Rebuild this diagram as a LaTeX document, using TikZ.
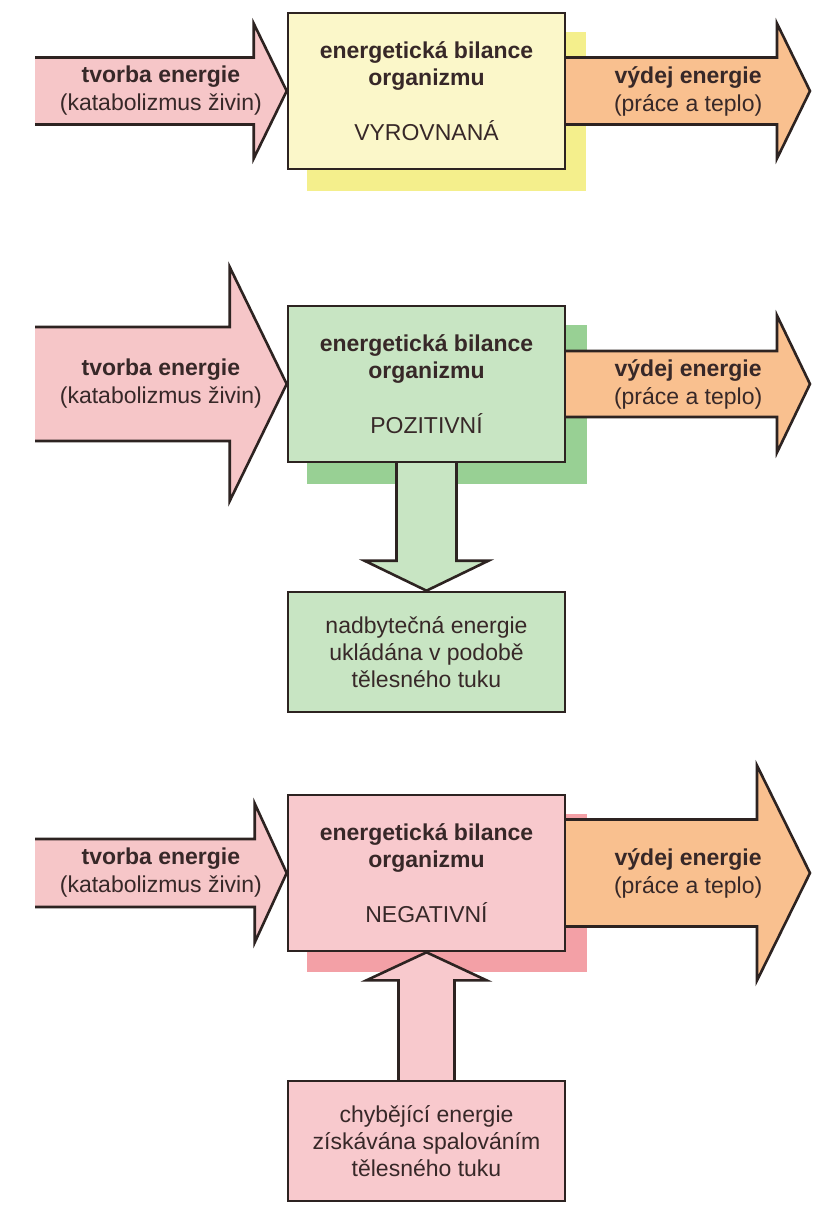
\documentclass[tikz,border=0pt]{standalone}
\usepackage{fontspec}
\setmainfont{Liberation Sans}
\usetikzlibrary{calc}

\definecolor{txtcol}{RGB}{55,40,40}
\definecolor{linecol}{RGB}{45,35,33}
\definecolor{inpink}{RGB}{246,198,200}
\definecolor{outorange}{RGB}{249,192,143}
\definecolor{yelbox}{RGB}{251,247,201}
\definecolor{yelshade}{RGB}{244,239,140}
\definecolor{grnbox}{RGB}{200,229,195}
\definecolor{grnshade}{RGB}{152,208,148}
\definecolor{redbox}{RGB}{248,201,205}
\definecolor{redshade}{RGB}{243,160,166}

\pgfdeclarelayer{back}
\pgfdeclarelayer{mid}
\pgfsetlayers{back,mid,main}

% block arrow: tail, tip, shaft half width, head half width, head length, fill
\newcommand{\fatarrow}[6]{%
  \coordinate (hb) at ($(#2)!#5pt!(#1)$);
  \fill[#6] ($(#1)!#3pt!90:(#2)$) -- ($(hb)!#3pt!90:(#2)$) -- ($(hb)!#4pt!90:(#2)$) -- (#2)
    -- ($(hb)!#4pt!-90:(#2)$) -- ($(hb)!#3pt!-90:(#2)$) -- ($(#1)!#3pt!-90:(#2)$) -- cycle;
  \draw[arrline] ($(#1)!#3pt!90:(#2)$) -- ($(hb)!#3pt!90:(#2)$) -- ($(hb)!#4pt!90:(#2)$) -- (#2)
    -- ($(hb)!#4pt!-90:(#2)$) -- ($(hb)!#3pt!-90:(#2)$) -- ($(#1)!#3pt!-90:(#2)$);
}

\begin{document}
\begin{tikzpicture}
  [x=1pt, y=-1pt,
   balbox/.style = {draw=linecol, line width=2.6pt, minimum width=277pt, minimum height=156pt,
                    inner sep=0pt, align=center, text=txtcol, font=\fontsize{23}{27}\selectfont},
   fatbox/.style = {balbox, minimum height=120pt},
   arrtext/.style = {align=center, text=txtcol, font=\fontsize{23}{28}\selectfont},
   arrline/.style = {draw=linecol, line width=2.6pt, line join=miter}]
  \useasboundingbox (0,0) rectangle (824,1211);

  % the three balances
  \node[balbox, fill=yelbox] (bal1) at (426.5,91)
    {\textbf{energetická bilance}\\\textbf{organizmu}\\[28pt]VYROVNANÁ};
  \node[balbox, fill=grnbox] (bal2) at (426.5,384)
    {\textbf{energetická bilance}\\\textbf{organizmu}\\[28pt]POZITIVNÍ};
  \node[balbox, fill=redbox] (bal3) at (426.5,873)
    {\textbf{energetická bilance}\\\textbf{organizmu}\\[28pt]NEGATIVNÍ};

  % fat stores
  \node[fatbox, fill=grnbox] (fat2) at (426.5,652)
    {nadbytečná energie\\ukládána v podobě\\tělesného tuku};
  \node[fatbox, fill=redbox] (fat3) at (426.5,1141)
    {chybějící energie\\získávána spalováním\\tělesného tuku};

  % arrow ends
  \coordinate (src1) at (35,91);
  \coordinate (src2) at (35,384);
  \coordinate (src3) at (35,873);
  \coordinate (out1) at (810,91);
  \coordinate (out2) at (810,384);
  \coordinate (out3) at (810,873);
  \coordinate (in1) at ($(bal1.east)+(-12,0)$);
  \coordinate (in2) at ($(bal2.east)+(-12,0)$);
  \coordinate (in3) at ($(bal3.east)+(-12,0)$);
  \coordinate (dn2) at ($(bal2.south)+(0,-12)$);
  \coordinate (up3) at ($(fat3.north)+(0,12)$);

  \node[arrtext] (t1) at ($(src1)!0.5!(bal1.west)$) {\textbf{tvorba energie}\\(katabolizmus živin)};
  \node[arrtext] (t2) at ($(src2)!0.5!(bal2.west)$) {\textbf{tvorba energie}\\(katabolizmus živin)};
  \node[arrtext] (t3) at ($(src3)!0.5!(bal3.west)$) {\textbf{tvorba energie}\\(katabolizmus živin)};
  \node[arrtext] (v1) at ($(bal1.east)!0.5!(out1)$) {\textbf{výdej energie}\\(práce a teplo)};
  \node[arrtext] (v2) at ($(bal2.east)!0.5!(out2)$) {\textbf{výdej energie}\\(práce a teplo)};
  \node[arrtext] (v3) at ($(bal3.east)!0.5!(out3)$) {\textbf{výdej energie}\\(práce a teplo)};

  \begin{pgfonlayer}{mid}
    \fatarrow{src1}{bal1.west}{33.5}{67.5}{33}{inpink}
    \fatarrow{in1}{out1}{33.5}{67.5}{33}{outorange}
    \fatarrow{src2}{bal2.west}{57}{117}{57}{inpink}
    \fatarrow{in2}{out2}{33}{68.5}{33}{outorange}
    \fatarrow{dn2}{fat2.north}{30}{62}{30}{grnbox}
    \fatarrow{src3}{bal3.west}{34}{69.5}{32}{inpink}
    \fatarrow{in3}{out3}{53.5}{107.5}{53}{outorange}
    \fatarrow{up3}{bal3.south}{28}{60}{28}{redbox}
  \end{pgfonlayer}

  \begin{pgfonlayer}{back}
    \fill[white] (0,0) rectangle (824,1211);
    \fill[yelshade] ($(bal1.north west)+(20,20)$) rectangle ($(bal1.south east)+(20,21)$);
    \fill[grnshade] ($(bal2.north west)+(20,20)$) rectangle ($(bal2.south east)+(21,21)$);
    \fill[redshade] ($(bal3.north west)+(20,20)$) rectangle ($(bal3.south east)+(21,20)$);
  \end{pgfonlayer}
\end{tikzpicture}
\end{document}
